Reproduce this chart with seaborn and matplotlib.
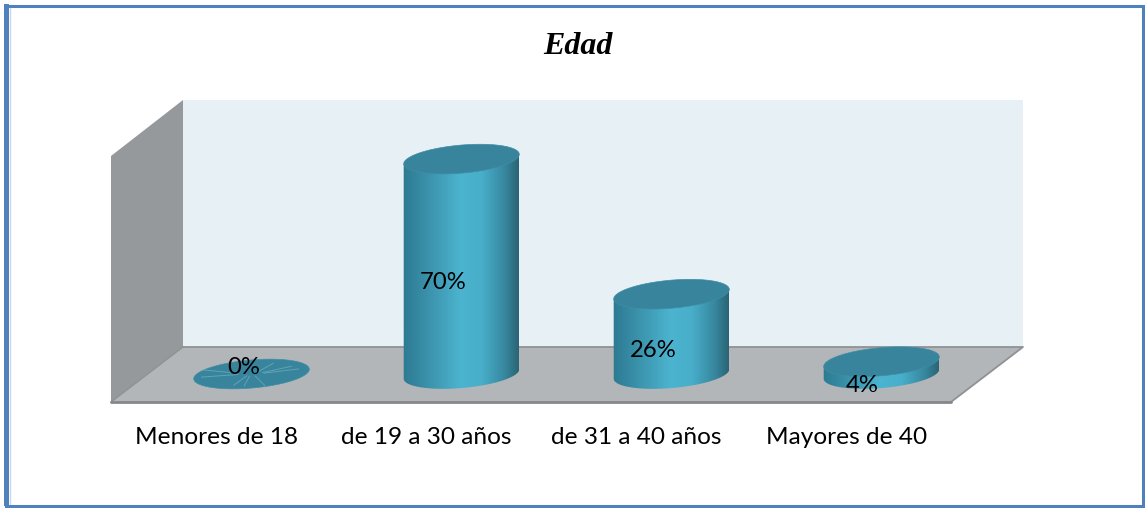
import numpy as np
import matplotlib
matplotlib.use('Agg')
import matplotlib.pyplot as plt
from matplotlib.colors import LinearSegmentedColormap
from matplotlib.patches import Polygon, Rectangle
import seaborn as sns

# values
categories = ['Menores de 18', 'de 19 a 30 años', 'de 31 a 40 años', 'Mayores de 40']
values = [0, 70, 26, 4]
value_labels = ['0%', '70%', '26%', '4%']

W, H = 1145, 508
STEP = 210       # px between categories
PX_PER_PCT = 3.07
X0, Y0 = 251.5, 374   # px position of the first cylinder base
A, B, TILT = 58, 14, np.radians(5)   # ellipse shape in px

sns.set_theme(style='white')
plt.rcParams['font.family'] = ['Lato', 'DejaVu Sans']

fig = plt.figure(figsize=(W / 100, H / 100), dpi=100, facecolor='white')

# background: frame, walls and floor, in pixels
bg = fig.add_axes([0, 0, 1, 1], zorder=0)
bg.set_xlim(0, W)
bg.set_ylim(H, 0)
bg.axis('off')
bg.add_patch(Polygon([(183, 100), (1023, 100), (1023, 347), (183, 347)], fc='#e7f0f5', ec='none'))
bg.add_patch(Polygon([(111, 156), (183, 100), (183, 347), (111, 402)], fc='#96999c', ec='none'))
bg.add_patch(Polygon([(111, 402), (183, 347), (1023, 347), (951, 402)], fc='#b3b6b8', ec='none'))
bg.plot([183, 1023, 951], [347, 347, 402], color='#8f9294', lw=1.3)
bg.plot([111, 183], [402, 347], color='#8f9294', lw=1)
bg.plot([111, 951], [402, 402], color='#85888a', lw=2)
bg.add_patch(Rectangle((5.5, 5.5), W - 8, H - 8, fc='none', ec='#4f81bd', lw=2.2))
bg.add_patch(Rectangle((4, 4), 5, H - 6, fc='#4f81bd', ec='none'))
bg.plot([10, 10], [8, H - 4], color='#c5d8f0', lw=1)
bg.text(578, 47, 'Edad', family='Liberation Serif', style='italic', weight='bold',
        fontsize=23, color='black', ha='center', va='center')

# bars on a full-figure axes, so one data unit maps to fixed pixels
ax = fig.add_axes([0, 0, 1, 1], zorder=1)
ax.patch.set_alpha(0)
sns.barplot(x=categories, y=values, ax=ax, width=(2 * A) / STEP, color='#4aa6c0', saturation=1)
ax.axis('off')

body_cmap = LinearSegmentedColormap.from_list(
    'body', [(0, '#2c7a92'), (0.2, '#3a90a9'), (0.5, '#4cb4d0'), (0.68, '#48aeca'),
             (0.88, '#37879e'), (1, '#2b6475')])
body_img = np.linspace(0, 1, 256).reshape(1, -1)


def ellipse(cx, cy, start=0, stop=2 * np.pi):
    # tilted ellipse built in pixels, returned in data units
    t = np.linspace(start, stop, 120)
    dx = A * np.cos(t) * np.cos(TILT) - B * np.sin(t) * np.sin(TILT)
    dy = A * np.cos(t) * np.sin(TILT) + B * np.sin(t) * np.cos(TILT)
    return np.column_stack([cx + dx / STEP, cy + dy / PX_PER_PCT])


for i, bar in enumerate(ax.patches):
    x = bar.get_x() + bar.get_width() / 2
    h = bar.get_height()
    bar.set_zorder(1)
    bar.set_edgecolor('none')
    if h > 0:
        # outline of the side: lower half of base, then up to the ends of the top
        lower = ellipse(x, 0, np.pi, 2 * np.pi)
        top = ellipse(x, h)
        outline = np.vstack([lower, top[:1], top[59:60]])
        clip = Polygon(outline, transform=ax.transData)
        im = ax.imshow(body_img, cmap=body_cmap, aspect='auto', zorder=2,
                       extent=[x - A / STEP, x + A / STEP, -20 / PX_PER_PCT, h + 10 / PX_PER_PCT])
        im.set_clip_path(clip)
        bar.set_alpha(0)
    ax.add_patch(Polygon(ellipse(x, h), fc='#37849c', ec='#3f8ea6', lw=0.5, zorder=3))
    if h == 0:
        # the flat disc shows faint light streaks
        for ang in np.radians([25, 40, 65, 160, 195, 250, 262, 285]):
            ax.plot([x + 14 * np.cos(ang) / STEP, x + 52 * np.cos(ang) / STEP],
                    [2 * np.sin(ang) / PX_PER_PCT, 12 * np.sin(ang) / PX_PER_PCT],
                    color='#7db7c8', lw=0.7, alpha=0.6, zorder=4)
ax.set_xlim(-X0 / STEP, (W - X0) / STEP)
ax.set_ylim(-(H - Y0) / PX_PER_PCT, Y0 / PX_PER_PCT)

label_dx = [-8, -18, -18, -19]
label_dy = [6, -16, -16, -18]
for i, (v, lab, cat) in enumerate(zip(values, value_labels, categories)):
    ax.annotate(lab, (i, v / 2), xytext=(label_dx[i], label_dy[i]), textcoords='offset pixels',
                ha='center', va='center', fontsize=17.2, color='black', zorder=6)
    ax.annotate(cat, (i, 0), xytext=(-35, -63), textcoords='offset pixels',
                ha='center', va='center', fontsize=17.6, color='black', zorder=6)

fig.savefig('out.png', dpi=100)
